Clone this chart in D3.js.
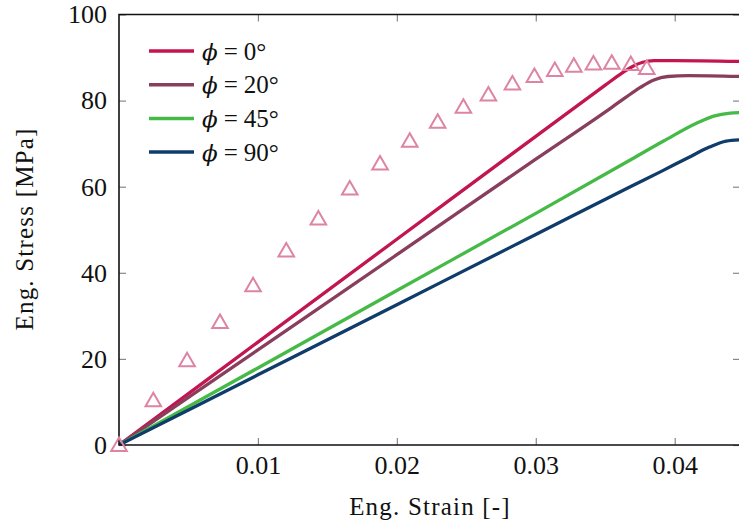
<!DOCTYPE html>
<html>
<head>
<meta charset="utf-8">
<script src="https://cdn.jsdelivr.net/npm/d3@7"></script>
<style>
	body { margin: 0; background: #fff; }
	svg text { font-family: "Liberation Serif", "DejaVu Serif", serif; fill: #111; }
</style>
</head>
<body>
<script>
// simulated curves, one array pair per fibre angle
let strain0 = [0, 0.01, 0.02, 0.03, 0.035, 0.0362, 0.0370, 0.0377, 0.0385, 0.040, 0.0447];
let stress0 = [0, 23.9, 47.8, 71.7, 83.6, 86.4, 88.0, 88.9, 89.3, 89.3, 89.1];

let strain20 = [0, 0.01, 0.02, 0.03, 0.0355, 0.0365, 0.0375, 0.0385, 0.0395, 0.041, 0.0447];
let stress20 = [0, 22.1, 44.2, 66.4, 78.5, 80.8, 83.0, 84.8, 85.6, 85.8, 85.6];

let strain45 = [0, 0.01, 0.02, 0.03, 0.0368, 0.0392, 0.0416, 0.0428, 0.044, 0.0447];
let stress45 = [0, 17.9, 35.9, 53.8, 66.2, 70.6, 74.8, 76.4, 77.1, 77.2];

let strain90 = [0, 0.01, 0.02, 0.03, 0.0368, 0.039, 0.041, 0.0425, 0.0437, 0.0447];
let stress90 = [0, 16.3, 32.6, 48.9, 60.0, 63.5, 66.8, 69.2, 70.6, 70.9];

// experiment (triangles)
let expStrain = [0, 0.00247, 0.00490, 0.00727, 0.00965, 0.01204, 0.01435, 0.01661, 0.01879, 0.02093,
	0.02294, 0.02479, 0.02659, 0.02832, 0.02990, 0.03137, 0.03274, 0.03415, 0.03547, 0.03684, 0.03799];
let expStress = [0, 10.4, 19.7, 28.6, 37.1, 45.2, 52.6, 59.6, 65.4, 70.7,
	75.1, 78.6, 81.4, 84.0, 85.7, 87.1, 88.1, 88.6, 88.8, 88.5, 87.6];

let seriesNames = ["0", "20", "45", "90"];
let seriesColors = ["#c3154f", "#8a3e5d", "#45ba47", "#0f3c6b"];
let expColor = "#dd84a5";

let xTicks = [0.01, 0.02, 0.03, 0.04];
let yTicks = [0, 20, 40, 60, 80, 100];

let series = [
	{strain: strain0, stress: stress0},
	{strain: strain20, stress: stress20},
	{strain: strain45, stress: stress45},
	{strain: strain90, stress: stress90}
];

// Set the dimensions
let W = 739, H = 527;
let margin = {top: 14.5, right: -1, bottom: 82, left: 119};
let width = W - margin.left - margin.right,
	height = H - margin.top - margin.bottom;

let xScale = d3.scaleLinear().domain([0, 0.0447]).range([0, width]);
let yScale = d3.scaleLinear().domain([0, 100]).range([height, 0]);

let svg = d3.select("body").append("svg")
	.attr("width", W)
	.attr("height", H);

let artboard = svg.append("g")
	.attr("transform", "translate(" + margin.left + "," + margin.top + ")");

// inner ticks on all four sides
let tickLen = 7;
let tickStyle = function(g) {
	g.select(".domain").remove();
	g.selectAll(".tick line").attr("stroke", "#888").attr("stroke-width", 1.2);
	g.selectAll(".tick text").style("font-size", "26px").attr("fill", "#111");
};

artboard.append("g")
	.attr("transform", "translate(0," + height + ")")
	.call(d3.axisBottom(xScale).tickValues(xTicks).tickSize(-tickLen).tickPadding(11)
		.tickFormat(d3.format(".2f")))
	.call(tickStyle);

artboard.append("g")
	.call(d3.axisTop(xScale).tickValues(xTicks).tickSize(-tickLen).tickFormat(""))
	.call(tickStyle);

artboard.append("g")
	.call(d3.axisLeft(yScale).tickValues(yTicks).tickSize(-tickLen).tickPadding(12))
	.call(tickStyle);

artboard.append("g")
	.attr("transform", "translate(" + width + ",0)")
	.call(d3.axisRight(yScale).tickValues(yTicks).tickSize(-tickLen).tickFormat(""))
	.call(tickStyle);

// clip for the curves
artboard.append("clipPath").attr("id", "clip")
	.append("rect").attr("width", width).attr("height", height);

let line = d3.line()
	.x(function(d) { return xScale(d[0]); })
	.y(function(d) { return yScale(d[1]); })
	.curve(d3.curveMonotoneX);

series.forEach(function(s, i) {
	let pts = s.strain.map(function(v, j) { return [v, s.stress[j]]; });
	artboard.append("path").datum(pts)
		.attr("clip-path", "url(#clip)")
		.attr("d", line)
		.style("fill", "none")
		.style("stroke", seriesColors[i])
		.style("stroke-width", "3.3px")
		.style("stroke-linejoin", "round");
});

// spines
let spine = artboard.append("g").attr("stroke", "#111").attr("stroke-width", 1.6).attr("fill", "none");
spine.append("path").attr("d", "M0," + height + "V0H" + width + "V" + height + "Z");

// experimental triangles
let r = 9;
let tri = "M0," + (-r) + "L" + (r * Math.cos(Math.PI / 6)) + "," + (r / 2) +
	"L" + (-r * Math.cos(Math.PI / 6)) + "," + (r / 2) + "Z";
artboard.selectAll(".exp")
	.data(expStrain.map(function(v, j) { return [v, expStress[j]]; }))
	.enter().append("path")
	.attr("class", "exp")
	.attr("transform", function(d) { return "translate(" + xScale(d[0]) + "," + (yScale(d[1]) + 1.5) + ")"; })
	.attr("d", tri)
	.style("fill", "none")
	.style("stroke", expColor)
	.style("stroke-width", "2px");

// axis labels
svg.append("text")
	.attr("x", margin.left + 311)
	.attr("y", 515)
	.attr("text-anchor", "middle")
	.style("font-size", "25px")
	.style("letter-spacing", "1.2px")
	.text("Eng. Strain [-]");

svg.append("text")
	.attr("transform", "translate(33,229) rotate(-90)")
	.attr("text-anchor", "middle")
	.style("font-size", "25px")
	.style("letter-spacing", "1.2px")
	.text("Eng. Stress [MPa]");

// legend
let legend = svg.append("g").attr("transform", "translate(149,51)");
seriesNames.forEach(function(name, i) {
	let row = legend.append("g").attr("transform", "translate(0," + (i * 33.7) + ")");
	row.append("line")
		.attr("x1", 0).attr("x2", 45)
		.style("stroke", seriesColors[i])
		.style("stroke-width", "3.5px");
	let t = row.append("text").attr("x", 53).attr("y", 8.5).style("font-size", "25px");
	t.append("tspan").style("font-family", "DejaVu Serif").style("font-style", "italic")
		.style("font-size", "23px").text("\u03D5");
	t.append("tspan").attr("dx", 6).text("=");
	t.append("tspan").attr("dx", 6).text(name + "\u00B0");
});
</script>
</body>
</html>
